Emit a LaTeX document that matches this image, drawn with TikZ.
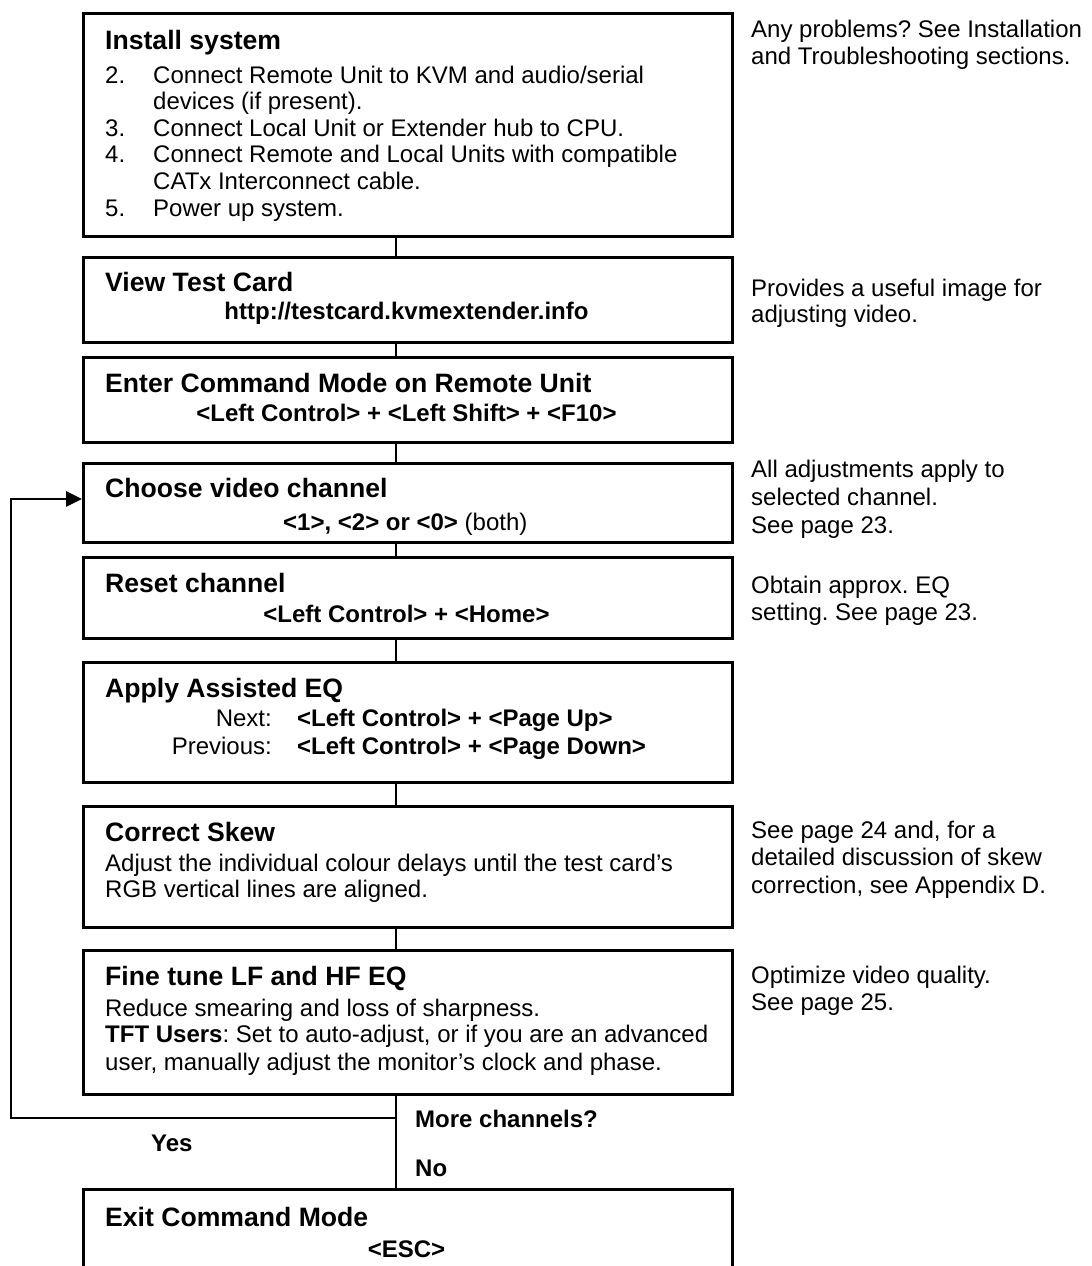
\documentclass[tikz,border=0pt]{standalone}
\usepackage{fontspec}
\setmainfont{Liberation Sans}
\usetikzlibrary{arrows.meta}
\frenchspacing
\begin{document}
\frenchspacing
\begin{tikzpicture}[x=1pt,y=-1pt,
  box/.style={draw,line width=2.8pt,inner sep=0pt,anchor=north west,minimum width=649pt},
  ttl/.style={anchor=base west,inner sep=0pt,font=\fontsize{26.6}{30}\selectfont\bfseries},
  txt/.style={anchor=base west,inner sep=0pt,font=\fontsize{24}{27}\selectfont},
  numtxt/.style={anchor=base west,inner sep=0pt,font=\fontsize{24}{27}\selectfont},
  keyc/.style={anchor=base,inner sep=0pt,font=\fontsize{24}{27}\selectfont\bfseries},
  keyw/.style={anchor=base west,inner sep=0pt,font=\fontsize{24}{27}\selectfont\bfseries},
  lbl/.style={anchor=base east,inner sep=0pt,font=\fontsize{24}{27}\selectfont},
  note/.style={anchor=base west,inner sep=0pt,font=\fontsize{24}{27}\selectfont},
  conn/.style={line width=2.8pt},
]
\clip (0,0) rectangle (1092,1266);
\fill[white] (0,0) rectangle (1092,1266);

% boxes
\node[box,minimum height=223pt] (b1) at (82,12) {};
\node[box,minimum height=85pt] (b2) at (82,256) {};
\node[box,minimum height=85pt] (b3) at (82,356) {};
\node[box,minimum height=79pt] (b4) at (82,462) {};
\node[box,minimum height=81pt] (b5) at (82,556) {};
\node[box,minimum height=120pt] (b6) at (82,661) {};
\node[box,minimum height=121pt] (b7) at (82,805) {};
\node[box,minimum height=144pt] (b8) at (82,949) {};
\node[box,minimum height=120pt] (b9) at (82,1188) {};

% connector axis
\coordinate (cx) at (396,0);
\draw[conn] (b1.south -| cx) -- (b2.north -| cx);
\draw[conn] (b2.south -| cx) -- (b3.north -| cx);
\draw[conn] (b3.south -| cx) -- (b4.north -| cx);
\draw[conn] (b4.south -| cx) -- (b5.north -| cx);
\draw[conn] (b5.south -| cx) -- (b6.north -| cx);
\draw[conn] (b6.south -| cx) -- (b7.north -| cx);
\draw[conn] (b7.south -| cx) -- (b8.north -| cx);
\draw[conn] (b8.south -| cx) -- (b9.north -| cx);

% loop back
\coordinate (j) at (396,1118);
\coordinate (lb) at (11,1118);
\coordinate (lt) at (11,499);
\draw[conn,line join=miter,-{Triangle[length=16pt,width=15pt]}] (j) -- (lb) -- (lt) -- (lt -| b4.west);

% box 1
\node[ttl] (t1) at (105,49) {Install system};
\node[numtxt] (n2) at (105,83) {2.};
\node[txt] (l2a) at (153,83) {Connect Remote Unit to KVM and audio/serial};
\node[txt] (l2b) at (153,109) {devices (if present).};
\node[numtxt] (n3) at (105,136) {3.};
\node[txt] (l3) at (153,136) {Connect Local Unit or Extender hub to CPU.};
\node[numtxt] (n4) at (105,162) {4.};
\node[txt] (l4a) at (153,162) {Connect Remote and Local Units with compatible};
\node[txt] (l4b) at (153,189) {CATx Interconnect cable.};
\node[numtxt] (n5) at (105,216) {5.};
\node[txt] (l5) at (153,216) {Power up system.};

% box 2
\node[ttl] (t2) at (105,291.5) {View Test Card};
\node[keyc] (k2) at (406.5,319) {http://testcard.kvmextender.info};

% box 3
\node[ttl] (t3) at (105,392.5) {Enter Command Mode on Remote Unit};
\node[keyc] (k3) at (406.5,421) {<Left Control> + <Left Shift> + <F10>};

% box 4
\node[ttl] (t4) at (105,497.5) {Choose video channel};
\node[keyw] (k4) at (283,530) {<1>, <2> or <0> \mdseries(both)};

% box 5
\node[ttl] (t5) at (105,592.5) {Reset channel};
\node[keyc] (k5) at (406.5,622) {<Left Control> + <Home>};

% box 6
\node[ttl] (t6) at (105,697.5) {Apply Assisted EQ};
\node[lbl] (p6a) at (272,726) {Next:};
\node[keyw] (k6a) at (297,726) {<Left Control> + <Page Up>};
\node[lbl] (p6b) at (272,754) {Previous:};
\node[keyw] (k6b) at (297,754) {<Left Control> + <Page Down>};

% box 7
\node[ttl] (t7) at (105,841.5) {Correct Skew};
\node[txt] (l7a) at (105,871) {Adjust the individual colour delays until the test card’s};
\node[txt] (l7b) at (105,897) {RGB vertical lines are aligned.};

% box 8
\node[ttl] (t8) at (105,985.5) {Fine tune LF and HF EQ};
\node[txt] (l8a) at (105,1016) {Reduce smearing and loss of sharpness.};
\node[txt] (l8b) at (105,1042) {\bfseries TFT Users\mdseries: Set to auto-adjust, or if you are an advanced};
\node[txt] (l8c) at (105,1070) {user, manually adjust the monitor’s clock and phase.};

% decision labels
\node[keyw] (more) at (415,1127) {More channels?};
\node[keyw] (yes) at (151,1151) {Yes};
\node[keyw] (no) at (415,1176) {No};

% box 9
\node[ttl] (t9) at (105,1226.5) {Exit Command Mode};
\node[keyc] (k9) at (406.5,1257) {<ESC>};

% side notes
\node[note] (s1a) at (751,37.6) {Any problems? See Installation};
\node[note] (s1b) at (751,64.6) {and Troubleshooting sections.};
\node[note] (s2a) at (751,296.6) {Provides a useful image for};
\node[note] (s2b) at (751,322.6) {adjusting video.};
\node[note] (s4a) at (751,477.6) {All adjustments apply to};
\node[note] (s4b) at (751,505.6) {selected channel.};
\node[note] (s4c) at (751,533.6) {See page 23.};
\node[note] (s5a) at (751,593.6) {Obtain approx. EQ};
\node[note] (s5b) at (751,620.6) {setting. See page 23.};
\node[note] (s7a) at (751,838.6) {See page 24 and, for a};
\node[note] (s7b) at (751,865.6) {detailed discussion of skew};
\node[note] (s7c) at (751,893.6) {correction, see Appendix D.};
\node[note] (s8a) at (751,983.6) {Optimize video quality.};
\node[note] (s8b) at (751,1010.6) {See page 25.};
\end{tikzpicture}
\end{document}
